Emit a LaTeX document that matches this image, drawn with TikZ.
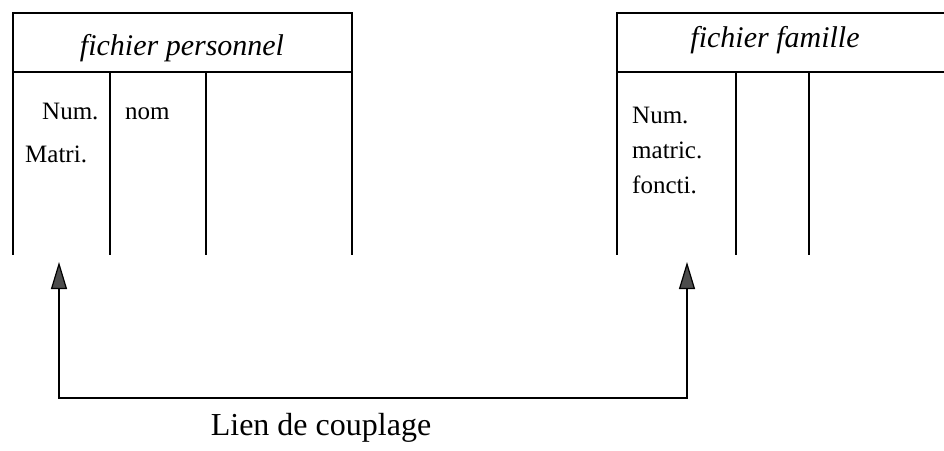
\documentclass[tikz,border=0pt]{standalone}
\usepackage{fontspec}
\setmainfont{Liberation Serif}
\usetikzlibrary{arrows.meta}

\begin{document}
\begin{tikzpicture}[x=1pt,y=-1pt,
	rule/.style={black, line width=1.8pt},
	fieldtxt/.style={anchor=base west, inner sep=0pt, font=\fontsize{25}{30}\selectfont},
	headtxt/.style={anchor=base, inner sep=0pt, font=\fontsize{30}{36}\selectfont\itshape},
	couple/.style={black, line width=2.4pt,
		{Triangle[width=16pt,length=27pt,line width=1.2pt,fill=black!70]}-{Triangle[width=16pt,length=27pt,line width=1.2pt,fill=black!70]}}]
		\useasboundingbox (0,0) rectangle (944,450);
		
		% fichier personnel
		\draw[rule] (13,72)--(13,13)--(352,13)--(352,72);
		\draw[rule] (13,72)--(352,72);
		\draw[rule] (13,72)--(13,255);
		\draw[rule] (110,72)--(110,255);
		\draw[rule] (206,72)--(206,255);
		\draw[rule] (352,72)--(352,255);
		\node[headtxt] (persHead) at (182,55) {fichier personnel};
		\node[fieldtxt] (persNum) at (42,119) {Num.};
		\node[fieldtxt] (persMatri) at (25,162) {Matri.};
		\node[fieldtxt] (persNom) at (125,119) {nom};
		
		% fichier famille
		\draw[rule] (617,72)--(617,13)--(944,13);
		\draw[rule] (617,72)--(944,72);
		\draw[rule] (617,72)--(617,255);
		\draw[rule] (736,72)--(736,255);
		\draw[rule] (809,72)--(809,255);
		\node[headtxt] (famHead) at (775,47) {fichier famille};
		\node[fieldtxt] (famNum) at (632,123) {Num.};
		\node[fieldtxt] (famMatric) at (632,158) {matric.};
		\node[fieldtxt] (famFoncti) at (632,193) {foncti.};
		
		% lien
		\coordinate (persKey) at (59,262);
		\coordinate (famKey) at (687,262);
		\coordinate (persBend) at (59,398);
		\coordinate (famBend) at (687,398);
		\draw[couple] (persKey)--(persBend)--(famBend)--(famKey);
		\node[anchor=base, inner sep=0pt, font=\fontsize{32}{38}\selectfont] (lien) at (321,435) {Lien de couplage};
	\end{tikzpicture}
\end{document}
